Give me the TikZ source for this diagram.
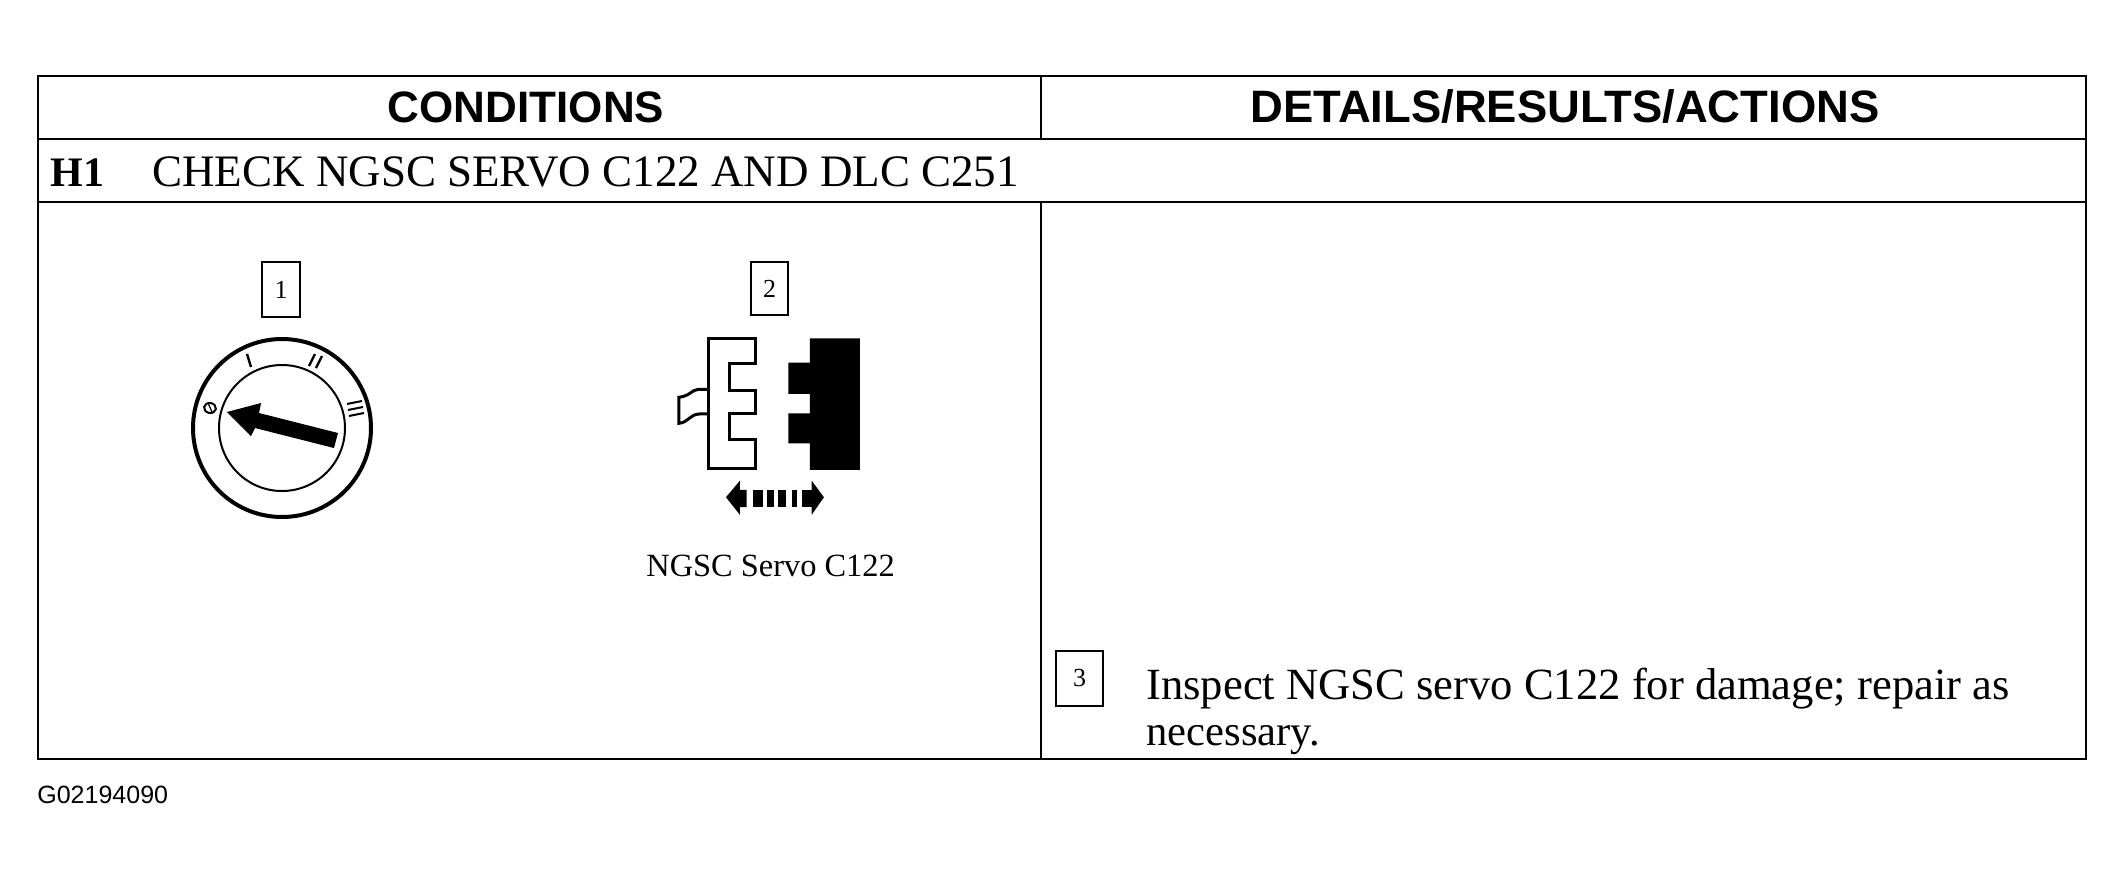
\documentclass[tikz,border=0pt]{standalone}
\usepackage{fontspec}
\setmainfont{Liberation Serif}
\newfontfamily\hdfont{Liberation Sans}
\begin{document}
\begin{tikzpicture}[x=0.5pt,y=-0.5pt,
  rule/.style={draw=black,line width=1pt},
  hd/.style={font=\hdfont\bfseries\fontsize{22}{26}\selectfont,anchor=base,inner sep=0pt},
  bodytxt/.style={font=\fontsize{22.3}{26}\selectfont,anchor=base west,inner sep=0pt},
  numbox/.style={draw=black,line width=0.8pt,inner sep=0pt,font=\fontsize{13}{14}\selectfont}]
\useasboundingbox (0,0) rectangle (2124,879);
% table
\draw[rule] (38,76) rectangle (2086,759);
\draw[rule] (38,139) -- (2086,139);
\draw[rule] (38,202) -- (2086,202);
\draw[rule] (1041,76) -- (1041,139);
\draw[rule] (1041,202) -- (1041,759);
\node[hd] (hc) at (526,122) {CONDITIONS};
\node[hd,font=\hdfont\bfseries\fontsize{22.7}{26}\selectfont] (hd) at (1565,122) {DETAILS/RESULTS/ACTIONS};
\node[bodytxt,font=\bfseries\fontsize{21}{26}\selectfont] (h1) at (50,186) {H1};
\node[bodytxt,font=\fontsize{22.5}{26}\selectfont] (ht) at (152,186) {CHECK NGSC SERVO C122 AND DLC C251};
% callouts
\node[numbox,minimum width=19pt,minimum height=27.5pt] (b1) at (281,289.5) {\raisebox{-1.5pt}{1}};
\node[numbox,minimum width=18.5pt,minimum height=26.5pt] (b2) at (769.5,288.5) {\raisebox{-1.2pt}{2}};
\node[numbox,minimum width=23.5pt,minimum height=27.5pt] (b3) at (1079.5,678.5) {\raisebox{-1.5pt}{3}};
% switch
\draw[line width=2pt] (282,428) circle [radius=89];
\draw[line width=1pt] (282,428) circle [radius=63];
\fill (227,412) -- (261,403) -- (259,413) -- (338,433) -- (334,448) -- (255,428) -- (251,436) -- cycle;
\draw[line width=1pt,rotate around={-10:(210,408)}] (210,408) ellipse [x radius=6,y radius=5];
\draw[line width=0.6pt] (208,403) -- (212,412);
\draw[line width=1.2pt] (247,354) -- (251,367);
\draw[line width=1.2pt] (315,354) -- (309,366);
\draw[line width=1.2pt] (322,356) -- (316,368);
\draw[line width=1pt] (347,404) -- (362,401);
\draw[line width=1pt] (348,410) -- (363,407);
\draw[line width=1pt] (349,416) -- (364,413);
% connector
\begin{scope}[shift={(630,270)},x=0.1666pt,y=-0.1666pt]
\draw[line width=1.5pt,line join=miter]
 (235,205) -- (378,205) -- (378,280) -- (300,280) -- (300,362) -- (378,362) -- (378,432) -- (300,432) -- (300,510) -- (378,510) -- (378,595) -- (235,595) -- cycle;
\draw[line width=1.5pt] (235,358) -- (205,358) .. controls (185,360) and (180,378) .. (147,382) -- (147,460) .. controls (175,458) and (180,432) .. (210,432) -- (235,432);
\fill (540,205) -- (690,205) -- (690,600) -- (540,600) -- (540,520) -- (475,520) -- (475,430) -- (540,430) -- (540,372) -- (475,372) -- (475,278) -- (540,278) -- cycle;
\fill (288,682) -- (330,632) -- (330,660) -- (350,660) -- (350,712) -- (330,712) -- (330,735) -- cycle;
\fill (582,682) -- (545,632) -- (545,735) -- cycle;
\fill (370,660) rectangle (400,712);
\fill (410,660) rectangle (432,712);
\fill (445,660) rectangle (468,712);
\fill (485,660) rectangle (500,712);
\fill (515,660) rectangle (546,712);
\end{scope}
\node[anchor=base west,inner sep=0pt,font=\fontsize{16.2}{18}\selectfont] (cap) at (646,576) {NGSC Servo C122};
% action text
\node[bodytxt] (a1) at (1146,699) {Inspect NGSC servo C122 for damage; repair as};
\node[bodytxt,font=\fontsize{21.3}{26}\selectfont] (a2) at (1146,745) {necessary.};
\node[anchor=base west,inner sep=0pt,font=\hdfont\fontsize{12.5}{15}\selectfont] (fig) at (37,803) {G02194090};
\end{tikzpicture}
\end{document}
